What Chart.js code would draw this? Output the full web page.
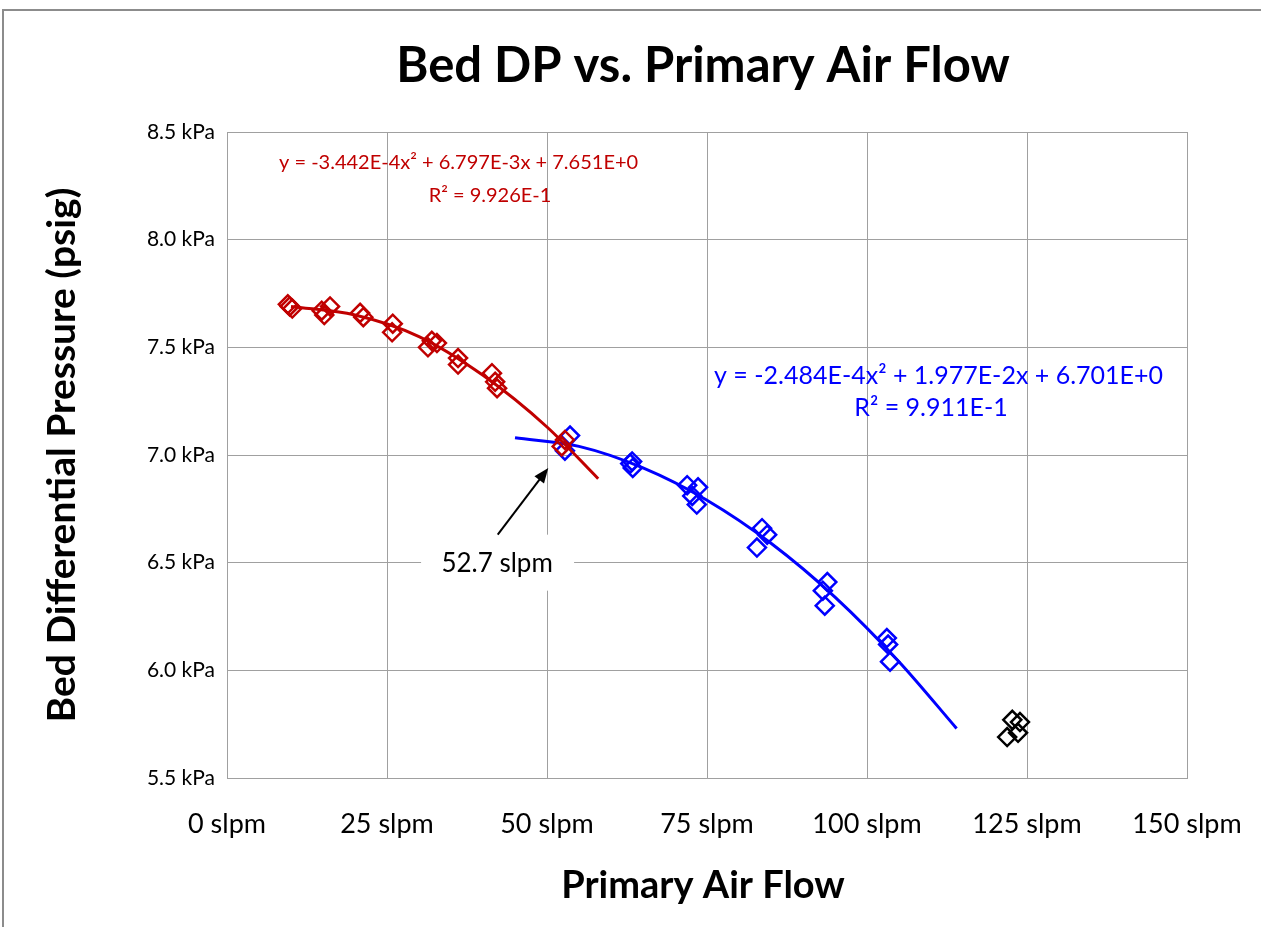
<!DOCTYPE html>
<html>
<head>
<meta charset="utf-8">
<script src="https://cdn.jsdelivr.net/npm/chart.js@4/dist/chart.umd.min.js"></script>
<style>
  html, body { margin: 0; padding: 0; background: #ffffff; }
  #wrap { width: 1261px; height: 927px; }
</style>
</head>
<body>
<div id="wrap"><canvas id="c" width="1261" height="927"></canvas></div>
<script>
// ---- Data ----
const chartTitle = 'Bed DP vs. Primary Air Flow';
const xTitle = 'Primary Air Flow';
const yTitle = 'Bed Differential Pressure (psig)';

const redX = [9.5, 10.2, 9.8, 14.8, 16.1, 15.2, 20.8, 21.3, 25.9, 25.8, 32.0, 31.4, 32.8, 36.1, 36.1, 41.4, 42.2, 41.9, 52.8, 52.3];
const redY = [7.70, 7.68, 7.69, 7.67, 7.69, 7.65, 7.66, 7.64, 7.61, 7.57, 7.53, 7.50, 7.52, 7.45, 7.42, 7.38, 7.31, 7.34, 7.07, 7.04];

const blueX = [53.6, 52.8, 63.3, 63.4, 63.0, 71.9, 73.6, 73.4, 72.7, 83.6, 82.8, 84.4, 93.8, 93.4, 93.1, 103.1, 103.3, 103.6];
const blueY = [7.09, 7.02, 6.97, 6.94, 6.96, 6.86, 6.85, 6.77, 6.81, 6.66, 6.57, 6.63, 6.41, 6.30, 6.37, 6.15, 6.12, 6.04];

const blackX = [122.7, 123.9, 121.9, 123.6];
const blackY = [5.77, 5.76, 5.69, 5.71];

// trend curves
const redFitX = [10, 20, 30, 40, 50, 58];
const redFitY = [7.69, 7.65, 7.55, 7.37, 7.13, 6.89];
const blueFitX = [45, 55, 65, 75, 85, 95, 105, 114];
const blueFitY = [7.08, 7.04, 6.94, 6.79, 6.59, 6.34, 6.04, 5.73];

const redEq = 'y = -3.442E-4x\u00B2 + 6.797E-3x + 7.651E+0';
const redR2 = 'R\u00B2 = 9.926E-1';
const blueEq = 'y = -2.484E-4x\u00B2 + 1.977E-2x + 6.701E+0';
const blueR2 = 'R\u00B2 = 9.911E-1';
const arrowLabel = '52.7 slpm';

const xMin = 0, xMax = 150, xStep = 25, xUnit = ' slpm';
const yMin = 5.5, yMax = 8.5, yStep = 0.5, yUnit = ' kPa';

// ---- Styling ----
const RED = '#c00000';
const BLUE = '#0000ff';
const BLACK = '#000000';
const GRID = '#a0a0a0';
const FONT = 'Lato, "Open Sans", "DejaVu Sans", sans-serif';

function pts(xs, ys) { return xs.map((x, i) => ({ x: x, y: ys[i] })); }

const markerStyle = (c) => ({
  showLine: false,
  pointStyle: 'rectRot',
  pointRadius: 9,
  pointHoverRadius: 9,
  pointBorderWidth: 2.5,
  pointBorderColor: c,
  pointBackgroundColor: 'rgba(0,0,0,0)',
  borderColor: c,
  backgroundColor: 'rgba(0,0,0,0)'
});

const lineStyle = (c) => ({
  showLine: true,
  pointRadius: 0,
  borderColor: c,
  borderWidth: 3,
  cubicInterpolationMode: 'monotone',
  fill: false
});

const decor = {
  id: 'decor',
  beforeDraw(chart) {
    const ctx = chart.ctx;
    ctx.save();
    ctx.fillStyle = '#ffffff';
    ctx.fillRect(0, 0, chart.width, chart.height);
    ctx.strokeStyle = '#8c8c8c';
    ctx.lineWidth = 2;
    ctx.beginPath();
    ctx.moveTo(3, chart.height + 5);
    ctx.lineTo(3, 10);
    ctx.lineTo(chart.width + 5, 10);
    ctx.stroke();
    ctx.restore();
  },
  afterDraw(chart) {
    const ctx = chart.ctx;
    const ca = chart.chartArea;
    const xs = chart.scales.x, ys = chart.scales.y;
    ctx.save();
    ctx.textBaseline = 'middle';
    ctx.textAlign = 'center';

    // chart title
    ctx.fillStyle = '#000';
    ctx.font = 'bold 49px ' + FONT;
    ctx.fillText(chartTitle, 703, 66);

    // x axis title
    ctx.font = 'bold 38px ' + FONT;
    ctx.fillText(xTitle, 703, 886);

    // y axis title
    ctx.save();
    ctx.translate(62, (ca.top + ca.bottom) / 2);
    ctx.rotate(-Math.PI / 2);
    ctx.font = 'bold 39px ' + FONT;
    ctx.fillText(yTitle, 0, 0);
    ctx.restore();

    // equations
    ctx.font = '20px ' + FONT;
    ctx.fillStyle = RED;
    ctx.textAlign = 'left';
    ctx.fillText(redEq, 279, 163);
    ctx.textAlign = 'center';
    ctx.fillText(redR2, 490, 196);

    ctx.font = '25px ' + FONT;
    ctx.fillStyle = BLUE;
    ctx.textAlign = 'right';
    ctx.fillText(blueEq, 1163, 376);
    ctx.textAlign = 'center';
    ctx.fillText(blueR2, 931, 408);

    // label box with arrow
    const lx = xs.getPixelForValue(42.2), ly = ys.getPixelForValue(6.5);
    ctx.fillStyle = '#ffffff';
    ctx.fillRect(lx - 76, ly - 28, 153, 56);
    ctx.fillStyle = '#000';
    ctx.font = '26px ' + FONT;
    ctx.fillText(arrowLabel, lx, ly + 1);

    const tx = xs.getPixelForValue(42.3), ty = ys.getPixelForValue(6.63);
    const hx = xs.getPixelForValue(50.2), hy = ys.getPixelForValue(6.94);
    const ang = Math.atan2(hy - ty, hx - tx);
    ctx.strokeStyle = '#000';
    ctx.lineWidth = 2;
    ctx.beginPath();
    ctx.moveTo(tx, ty);
    ctx.lineTo(hx - 8 * Math.cos(ang), hy - 8 * Math.sin(ang));
    ctx.stroke();
    ctx.beginPath();
    ctx.moveTo(hx, hy);
    ctx.lineTo(hx - 15 * Math.cos(ang) + 6 * Math.sin(ang), hy - 15 * Math.sin(ang) - 6 * Math.cos(ang));
    ctx.lineTo(hx - 15 * Math.cos(ang) - 6 * Math.sin(ang), hy - 15 * Math.sin(ang) + 6 * Math.cos(ang));
    ctx.closePath();
    ctx.fillStyle = '#000';
    ctx.fill();
    ctx.restore();
  }
};

new Chart(document.getElementById('c'), {
  type: 'scatter',
  data: {
    datasets: [
      Object.assign({ label: 'fitRed', data: pts(redFitX, redFitY), order: 1 }, lineStyle(RED)),
      Object.assign({ label: 'red', data: pts(redX, redY), order: 2 }, markerStyle(RED)),
      Object.assign({ label: 'fitBlue', data: pts(blueFitX, blueFitY), order: 3 }, lineStyle(BLUE)),
      Object.assign({ label: 'blue', data: pts(blueX, blueY), order: 4 }, markerStyle(BLUE)),
      Object.assign({ label: 'black', data: pts(blackX, blackY), order: 5 }, markerStyle(BLACK))
    ]
  },
  options: {
    responsive: false,
    animation: false,
    devicePixelRatio: 1,
    layout: { padding: { left: 0, top: 132, right: 74, bottom: 0 } },
    plugins: {
      legend: { display: false },
      title: { display: false },
      tooltip: { enabled: false }
    },
    scales: {
      x: {
        type: 'linear',
        min: xMin, max: xMax,
        afterFit(s) { s.height = 149; s.paddingLeft = 0; s.paddingRight = 0; },
        ticks: {
          stepSize: xStep,
          padding: 30,
          color: '#000',
          font: { size: 27, family: FONT },
          maxRotation: 0,
          autoSkip: false,
          callback: (v) => v + xUnit
        },
        grid: { color: GRID, lineWidth: 1, drawTicks: false },
        border: { color: GRID, width: 1 }
      },
      y: {
        type: 'linear',
        min: yMin, max: yMax,
        afterFit(s) { s.width = 227; s.paddingTop = 0; s.paddingBottom = 0; },
        ticks: {
          stepSize: yStep,
          padding: 12,
          color: '#000',
          font: { size: 21, family: FONT },
          callback: (v) => v.toFixed(1) + yUnit
        },
        grid: { color: GRID, lineWidth: 1, drawTicks: false },
        border: { color: GRID, width: 1 }
      }
    }
  },
  plugins: [decor, {
    id: 'rightBorder',
    afterDraw(chart) {
      const ca = chart.chartArea, ctx = chart.ctx;
      ctx.save();
      ctx.strokeStyle = GRID;
      ctx.lineWidth = 1;
      ctx.beginPath();
      ctx.moveTo(Math.round(ca.right) + 0.5, ca.top);
      ctx.lineTo(Math.round(ca.right) + 0.5, ca.bottom);
      ctx.stroke();
      ctx.restore();
    }
  }]
});
</script>
</body>
</html>
